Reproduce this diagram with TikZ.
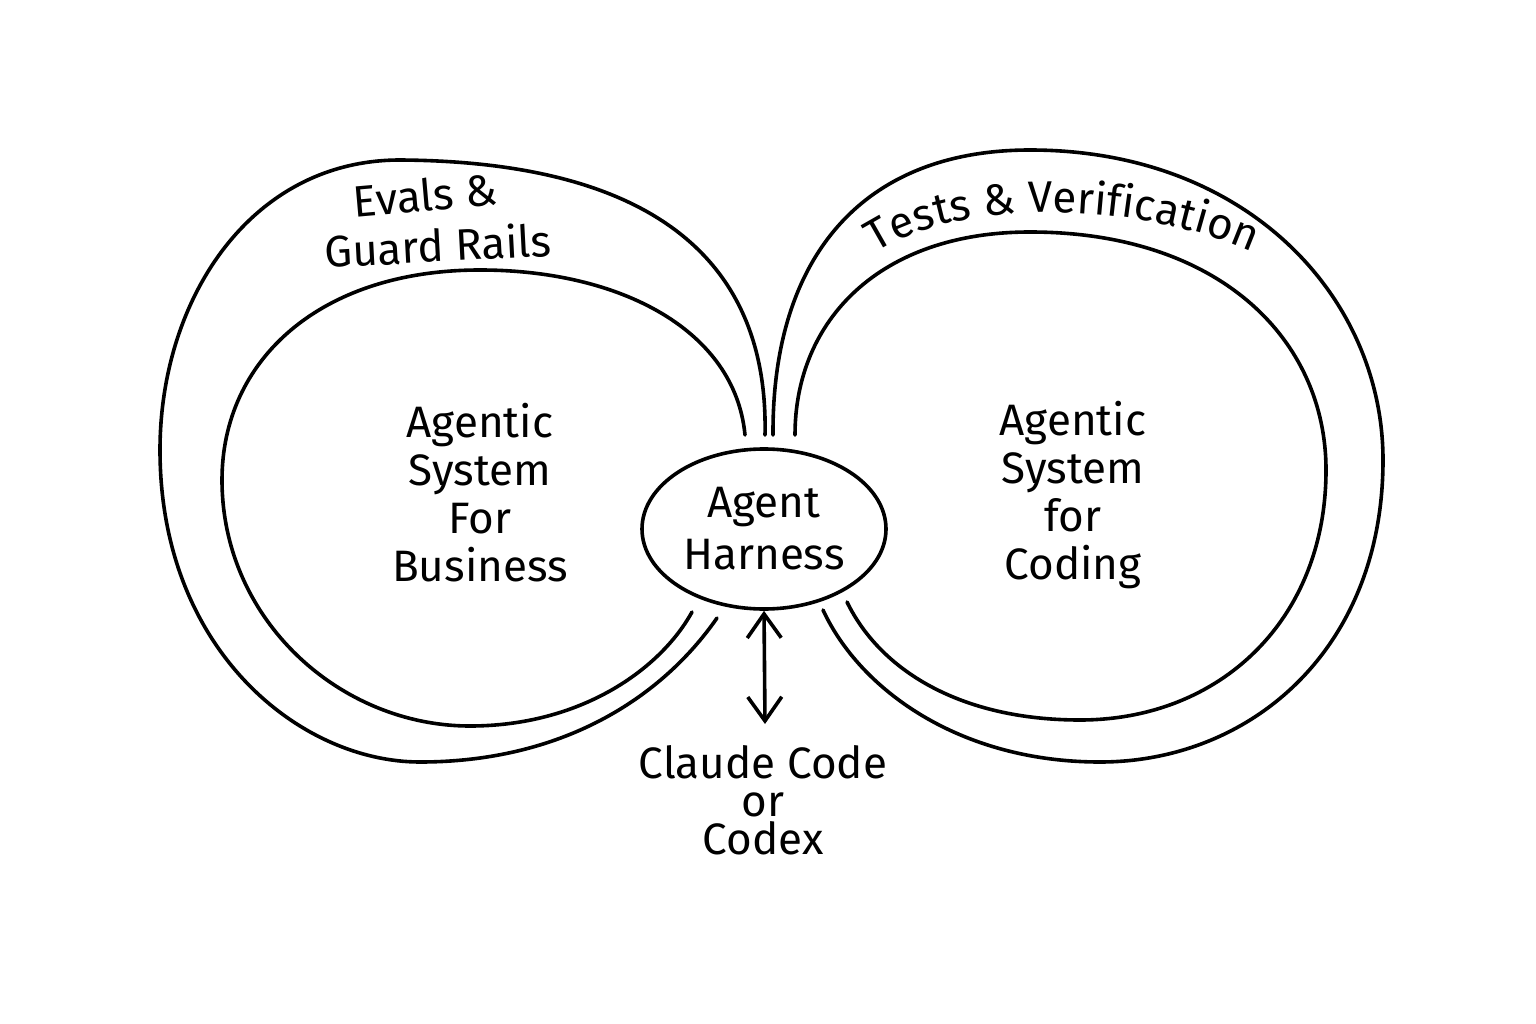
\documentclass[tikz,border=0pt]{standalone}
\usepackage{fontspec}
\setmainfont{Fira Sans}
\usetikzlibrary{arrows.meta,shapes.geometric,decorations.text}
\begin{document}
\begin{tikzpicture}[x=1pt,y=-1pt,
  loopline/.style={line width=3.6pt, line cap=round, line join=round},
  lbl/.style={font=\fontsize{44}{48}\selectfont, align=center, inner sep=0pt},
  harnessbox/.style={ellipse, draw, line width=3.6pt, minimum width=244pt, minimum height=160pt, inner sep=0pt, align=center, font=\fontsize{44}{52}\selectfont},
  biarrow/.style={line width=3.6pt, {Straight Barb[length=24pt,width=34pt,line width=3.6pt]}-{Straight Barb[length=24pt,width=34pt,line width=3.6pt]}}
]
\fill[white] (0,0) rectangle (1536,1024);
\useasboundingbox (0,0) rectangle (1536,1024);

% left loops
\draw[loopline] (765,435) .. controls (768,300) and (700,162) .. (400,160)
  .. controls (250,160) and (160,300) .. (160,450)
  .. controls (160,650) and (300,762) .. (420,762)
  .. controls (560,762) and (660,700) .. (717,618);
\draw[loopline] (745,435) .. controls (735,330) and (620,270) .. (480,270)
  .. controls (320,270) and (222,360) .. (222,480)
  .. controls (222,620) and (340,726) .. (470,726)
  .. controls (580,726) and (660,670) .. (692,612);

% right loops
\draw[loopline] (773,435) .. controls (772,260) and (860,150) .. (1030,150)
  .. controls (1250,150) and (1383,300) .. (1383,460)
  .. controls (1383,650) and (1250,762) .. (1100,762)
  .. controls (960,762) and (860,690) .. (823,610);
\draw[loopline] (795,435) .. controls (795,320) and (880,232) .. (1030,232)
  .. controls (1220,232) and (1326,340) .. (1326,470)
  .. controls (1326,620) and (1220,720) .. (1080,720)
  .. controls (960,720) and (880,670) .. (847,602);

% harness
\node[harnessbox] (harness) at (764,529) {Agent\\Harness};
\coordinate (arrowend) at (765,724);
\draw[biarrow] (harness.south) -- (arrowend);

\node[lbl, font=\fontsize{44}{38}\selectfont] (cc) at (763,800) {Claude Code\\or\\Codex};

\node[lbl] (biz) at (480,493) {Agentic\\System\\For\\Business};
\node[lbl] (code) at (1073,495) {Agentic\\System\\for\\Coding};

\node[lbl, rotate=5] (evals) at (425,195) {Evals \&};
\node[lbl, rotate=3] (guard) at (438,245) {Guard Rails};

\path[decorate, decoration={text along path, text align=center,
  text={|\fontsize{44}{48}\selectfont|Tests {\&} Verification}}]
  (880,250) .. controls (960,200) and (1130,200) .. (1248,250);
\end{tikzpicture}
\end{document}
